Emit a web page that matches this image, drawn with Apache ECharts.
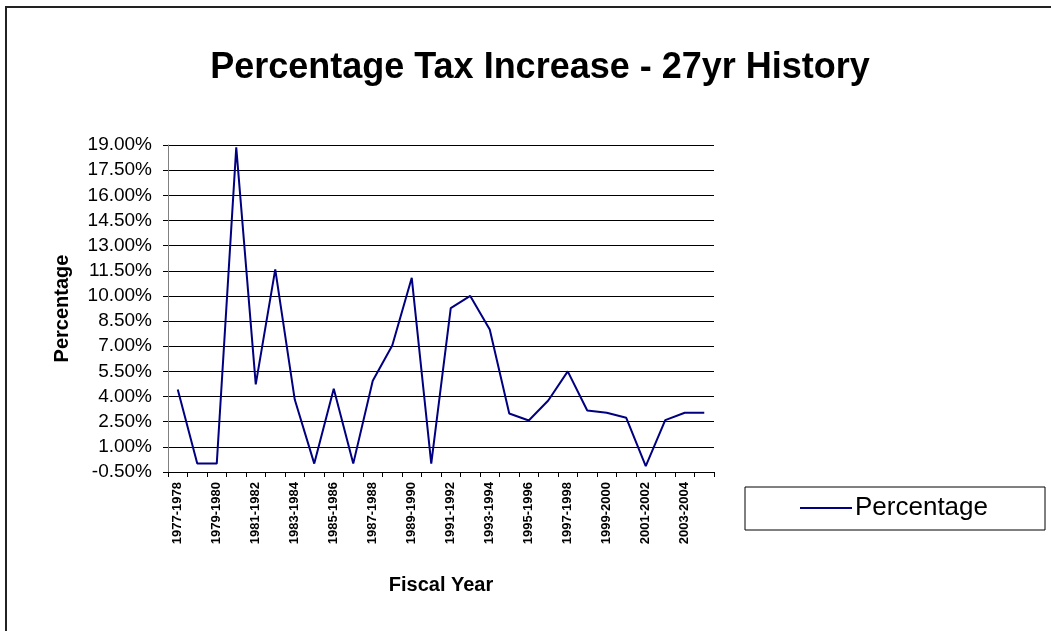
<!DOCTYPE html>
<html>
<head>
<meta charset="utf-8">
<script src="https://cdn.jsdelivr.net/npm/echarts@6/dist/echarts.min.js"></script>
<style>
  html, body { margin: 0; padding: 0; background: #fff; }
  #chart { width: 1051px; height: 631px; }
</style>
</head>
<body>
<div id="chart"></div>
<script>
// fiscal years 1977-1978 .. 2004-2005
const years = [];
for (let y = 1977; y <= 2004; y++) years.push(y + '-' + (y + 1));

const percentage = [
  4.42, 0, 0, 18.86, 4.73, 11.58, 3.82, 0, 4.46, 0,
  4.94, 7.04, 11.08, 0, 9.27, 10.0, 8.0, 2.99, 2.57, 3.76,
  5.5, 3.17, 3.03, 2.73, -0.15, 2.59, 3.03, 3.03
];

const yMin = -0.5;
const yMax = 19;
const yStep = 1.5;

const chart = echarts.init(document.getElementById('chart'), null, { renderer: 'canvas' });

chart.setOption({
  backgroundColor: '#fff',
  animation: false,
  title: {
    text: 'Percentage Tax Increase - 27yr History',
    left: 535,
    textAlign: 'center',
    top: 45,
    textStyle: {
      fontFamily: 'Liberation Sans, Arial',
      fontSize: 36,
      fontWeight: 'bold',
      color: '#000'
    }
  },
  graphic: [
    {
      type: 'rect',
      shape: { x: 6, y: 7, width: 1200, height: 800 },
      style: { fill: 'none', stroke: '#222', lineWidth: 2 },
      silent: true
    },
    {
      type: 'rect',
      shape: { x: 745, y: 487, width: 300, height: 43 },
      style: { fill: '#fff', stroke: '#000', lineWidth: 1 },
      silent: true,
      z: -1
    }
  ],
  legend: {
    left: 795,
    top: 490,
    itemWidth: 52,
    itemHeight: 2,
    itemGap: 0,
    icon: 'rect',
    textStyle: {
      fontFamily: 'Liberation Sans, Arial',
      fontSize: 26,
      color: '#000',
      padding: [0, 0, 0, -2]
    },
    data: [{ name: 'Percentage', icon: 'rect' }]
  },
  grid: {
    left: 168,
    right: 337,
    top: 145,
    bottom: 159,
    containLabel: false
  },
  xAxis: {
    type: 'category',
    data: years,
    boundaryGap: true,
    name: 'Fiscal Year',
    nameLocation: 'middle',
    nameGap: 103,
    nameTextStyle: {
      fontFamily: 'Liberation Sans, Arial',
      fontSize: 20,
      fontWeight: 'bold',
      color: '#000'
    },
    axisLine: { onZero: false, lineStyle: { color: '#000', width: 1 } },
    axisTick: { show: true, length: 5, interval: 0, lineStyle: { color: '#000' } },
    axisLabel: {
      interval: 1,
      rotate: 90,
      margin: 10,
      fontFamily: 'Liberation Sans, Arial',
      fontSize: 13,
      fontWeight: 'bold',
      color: '#000'
    },
    splitLine: { show: false }
  },
  yAxis: {
    type: 'value',
    min: yMin,
    max: yMax,
    interval: yStep,
    name: 'Percentage',
    nameLocation: 'middle',
    nameGap: 96,
    nameRotate: 90,
    nameTextStyle: {
      fontFamily: 'Liberation Sans, Arial',
      fontSize: 20,
      fontWeight: 'bold',
      color: '#000'
    },
    axisLine: { show: true, lineStyle: { color: '#808080', width: 1 } },
    axisTick: { show: true, length: 5, lineStyle: { color: '#000' } },
    axisLabel: {
      margin: 16,
      fontFamily: 'Liberation Sans, Arial',
      fontSize: 19,
      color: '#000',
      formatter: v => v.toFixed(2) + '%'
    },
    splitLine: { show: true, lineStyle: { color: '#000', width: 1 } }
  },
  series: [
    {
      name: 'Percentage',
      type: 'line',
      data: percentage,
      symbol: 'none',
      color: '#000080',
      lineStyle: { color: '#000080', width: 2 }
    }
  ]
});
</script>
</body>
</html>
